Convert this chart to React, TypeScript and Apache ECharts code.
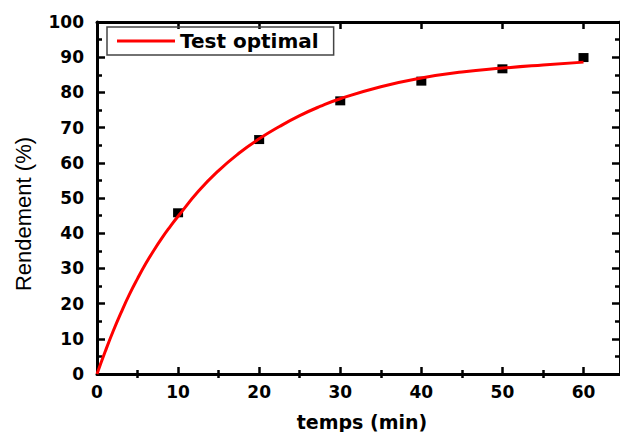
import React, { useEffect, useRef } from "react";
import * as echarts from "echarts";

const curveT = [0, 1, 2, 3, 4, 5, 6, 7, 8, 9, 10, 12.5, 15, 17.5, 20, 22.5, 25, 27.5, 30, 35, 40, 45, 50, 55, 60];
const curveV = [0, 6.3, 12.2, 17.6, 22.6, 27.1, 31.3, 35.1, 38.6, 41.8, 44.8, 51.9, 57.8, 62.7, 66.8, 70.3, 73.4, 76, 78.2, 81.6, 84.1, 85.8, 86.9, 87.8, 88.6];
const pointT = [10, 20, 30, 40, 50, 60];
const pointV = [45.8, 66.6, 77.6, 83.2, 86.7, 89.9];
const xMajor = [0, 10, 20, 30, 40, 50, 60];
const xMinor = [5, 15, 25, 35, 45, 55];

const FONT = "DejaVu Sans";

export default function App() {
  const ref = useRef<HTMLDivElement>(null);
  useEffect(() => {
    document.body.style.margin = "0";
    const chart = echarts.init(ref.current!, null, { renderer: "svg" });
    const axisLine = { show: true, onZero: false, lineStyle: { color: "#000", width: 3 } };
    const baseX = { type: "value", min: 0, max: 64.5, interval: 10, splitLine: { show: false } };
    const majorTick = (len: number) => ({ show: true, inside: true, length: len, customValues: xMajor, lineStyle: { color: "#000", width: 2.5 } });
    const minorTickAx = (len: number) => ({ show: true, inside: true, length: len, customValues: xMinor, lineStyle: { color: "#000", width: 2.5 } });
    chart.setOption({
      animation: false,
      backgroundColor: "#fff",
      grid: { left: 97, top: 22, width: 525.7, height: 352, containLabel: false },
      legend: {
        data: [{ name: "Test optimal", icon: "rect" }],
        left: 107,
        top: 27,
        padding: [4, 15, 4, 10],
        itemWidth: 58,
        itemHeight: 3,
        borderColor: "#444",
        borderWidth: 1.5,
        itemStyle: { color: "#ff0000" },
        textStyle: { fontFamily: FONT, fontWeight: "bold", fontSize: 20, color: "#000" },
      },
      xAxis: [
        {
          ...baseX,
          position: "bottom",
          axisLine,
          axisTick: majorTick(7),
          axisLabel: { show: true, customValues: xMajor, margin: 9, fontFamily: FONT, fontWeight: "bold", fontSize: 17, color: "#000" },
        },
        { ...baseX, position: "bottom", axisLine: { show: false }, axisTick: minorTickAx(4), axisLabel: { show: false } },
        { ...baseX, position: "top", axisLine, axisTick: majorTick(7), axisLabel: { show: false } },
        { ...baseX, position: "top", axisLine: { show: false }, axisTick: minorTickAx(4), axisLabel: { show: false } },
      ],
      yAxis: [
        {
          type: "value", min: 0, max: 100, interval: 10, position: "left",
          splitLine: { show: false },
          axisLine,
          axisTick: { show: true, inside: true, length: 8, lineStyle: { color: "#000", width: 2.5 } },
          minorTick: { show: true, splitNumber: 2, length: 5, lineStyle: { color: "#000", width: 2.5 } },
          axisLabel: { margin: 13, fontFamily: FONT, fontWeight: "bold", fontSize: 17, color: "#000" },
        },
        {
          type: "value", min: 0, max: 100, interval: 10, position: "right",
          splitLine: { show: false },
          axisLine,
          axisTick: { show: true, inside: true, length: 8, lineStyle: { color: "#000", width: 2.5 } },
          minorTick: { show: true, splitNumber: 2, length: 5, lineStyle: { color: "#000", width: 2.5 } },
          axisLabel: { show: false },
        },
      ],
      graphic: [
        {
          type: "text", x: 23, y: 214, rotation: Math.PI / 2,
          style: { text: "Rendement (%)", fontFamily: "Liberation Sans", fontSize: 22, fill: "#000", align: "center", verticalAlign: "middle" },
        },
        {
          type: "text", x: 362, y: 422,
          style: { text: "temps (min)", fontFamily: FONT, fontWeight: "bold", fontSize: 19, fill: "#000", align: "center", verticalAlign: "middle" },
        },
      ],
      series: [
        {
          name: "Test optimal",
          type: "line",
          xAxisIndex: 0,
          yAxisIndex: 0,
          smooth: true,
          symbol: "none",
          lineStyle: { color: "#ff0000", width: 3 },
          itemStyle: { color: "#ff0000" },
          data: curveT.map((t, i) => [t, curveV[i]]),
          z: 3,
        },
        {
          name: "points",
          type: "scatter",
          xAxisIndex: 0,
          yAxisIndex: 0,
          symbol: "rect",
          symbolSize: [10, 9],
          itemStyle: { color: "#000", opacity: 1 },
          data: pointT.map((t, i) => [t, pointV[i]]),
          z: 2,
        },
      ],
    });
    return () => chart.dispose();
  }, []);
  return <div ref={ref} style={{ position: "absolute", left: 0, top: 0, width: 620, height: 432 }} />;
}
